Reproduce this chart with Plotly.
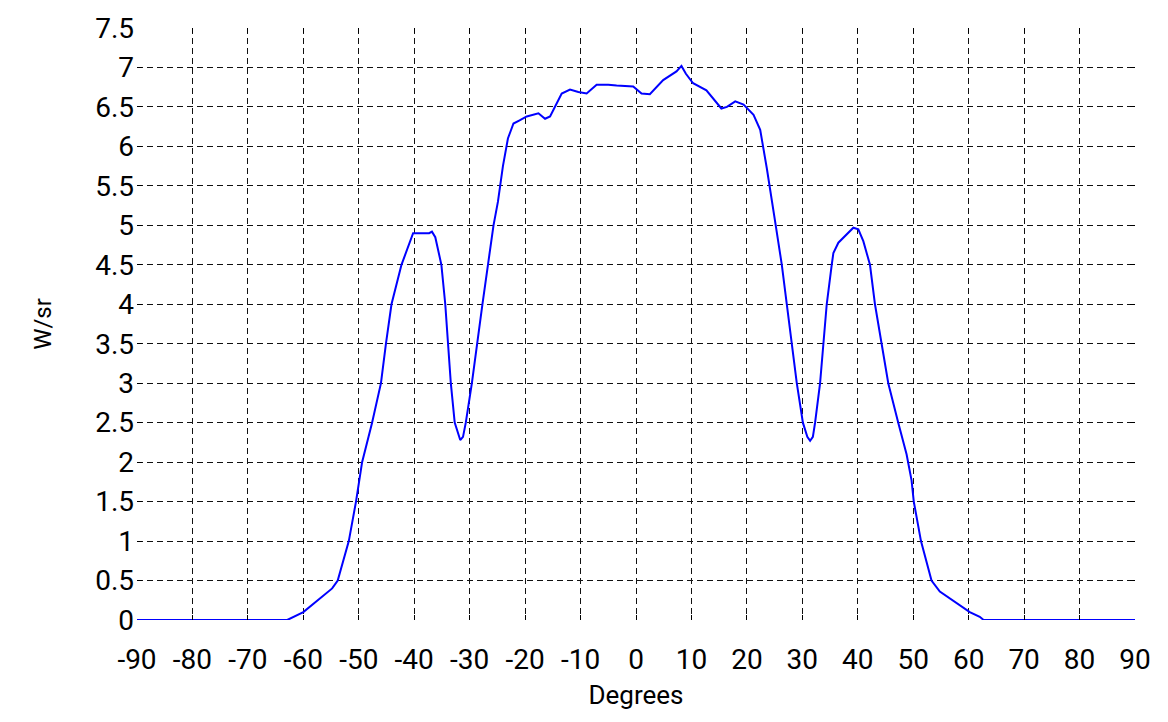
import plotly.graph_objects as go

# Angular radiant intensity profile (degrees vs W/sr)
angle_deg = [
    -90, -80, -70, -63.5, -62.9, -60.0, -57.0, -54.8, -53.8, -51.8, -50.5, -49.4,
    -47.6, -46.0, -45.1, -44.1, -42.3, -41.0, -40.2, -38.5, -37.3, -36.8, -36.2,
    -35.1, -34.4, -33.9, -33.4, -32.7, -32.0, -31.7, -31.2, -30.7, -29.6, -28.7,
    -27.7, -26.7, -25.7, -24.9, -24.0, -23.1, -22.1, -21.0, -19.7, -17.6, -16.4,
    -15.5, -14.3, -13.4, -11.9, -10.4, -8.9, -7.1, -5.0, -3.5, -0.5, 1.0, 2.5,
    4.9, 7.3, 8.2, 9.0, 10.3, 12.7, 15.4, 16.4, 17.9, 19.4, 21.2, 22.4, 23.6,
    25.2, 26.3, 27.2, 28.1, 29.0, 30.1, 30.9, 31.4, 31.9, 32.3, 33.2, 33.8, 34.4,
    35.3, 35.6, 36.5, 38.0, 39.2, 40.1, 41.0, 42.2, 43.1, 44.3, 45.5, 47.3, 48.8,
    49.7, 50.1, 51.4, 53.3, 54.8, 56.6, 58.4, 60.2, 62.0, 62.7, 70, 80, 90,
]
intensity_wsr = [
    0, 0, 0, 0, 0.0, 0.10, 0.28, 0.40, 0.50, 1.00, 1.50, 2.00,
    2.50, 3.00, 3.50, 4.00, 4.50, 4.75, 4.90, 4.90, 4.90, 4.92, 4.85,
    4.50, 4.00, 3.50, 3.00, 2.50, 2.35, 2.28, 2.32, 2.50, 3.00, 3.50,
    4.00, 4.50, 5.00, 5.30, 5.75, 6.10, 6.29, 6.33, 6.38, 6.42, 6.35,
    6.38, 6.55, 6.67, 6.72, 6.69, 6.67, 6.78, 6.78, 6.77, 6.76, 6.67, 6.66,
    6.84, 6.95, 7.02, 6.92, 6.80, 6.71, 6.48, 6.50, 6.57, 6.53, 6.40, 6.21, 5.72,
    5.00, 4.50, 4.00, 3.50, 3.00, 2.50, 2.32, 2.27, 2.32, 2.50, 3.00, 3.50, 4.00,
    4.50, 4.65, 4.78, 4.89, 4.97, 4.95, 4.80, 4.50, 4.00, 3.50, 3.00, 2.50, 2.10,
    1.77, 1.50, 1.00, 0.50, 0.36, 0.27, 0.19, 0.10, 0.04, 0.0, 0, 0, 0,
]

x_ticks = list(range(-90, 91, 10))
y_ticks = [i * 0.5 for i in range(16)]
y_tick_text = [f"{v:g}" for v in y_ticks]

FONT_FAMILY = "Liberation Sans Narrow, Arial Narrow, Roboto, sans-serif"
TICK_FONT = dict(family=FONT_FAMILY, size=28, color="#000000")

fig = go.Figure()
fig.add_trace(go.Scatter(
    x=angle_deg, y=intensity_wsr, mode="lines",
    line=dict(color="#0000ff", width=2),
    hoverinfo="x+y",
))

grid_common = dict(
    showgrid=True, gridcolor="#111111", gridwidth=1.2, griddash="6px,4px",
    zeroline=False, showline=False,
    ticks="inside", ticklen=5, tickcolor="#000000", tickwidth=1,
    mirror="ticks",
    tickfont=TICK_FONT,
)

fig.update_layout(
    width=1168, height=722,
    margin=dict(l=137, r=33, t=26, b=102),
    paper_bgcolor="#ffffff", plot_bgcolor="#ffffff",
    showlegend=False,
    xaxis=dict(
        range=[-90, 90], tickvals=x_ticks, ticktext=[str(v) for v in x_ticks],
        ticklabelstandoff=20,
        title=dict(text="Degrees", font=dict(family=FONT_FAMILY, size=26,
                                             color="#000000"), standoff=10),
        **grid_common,
    ),
    yaxis=dict(
        range=[0, 7.5], tickvals=y_ticks, ticktext=y_tick_text,
        ticklabelstandoff=2,
        title=dict(text="W/sr", font=dict(family=FONT_FAMILY, size=24,
                                          color="#000000"), standoff=36),
        **grid_common,
    ),
)

fig.write_html("out.html")
